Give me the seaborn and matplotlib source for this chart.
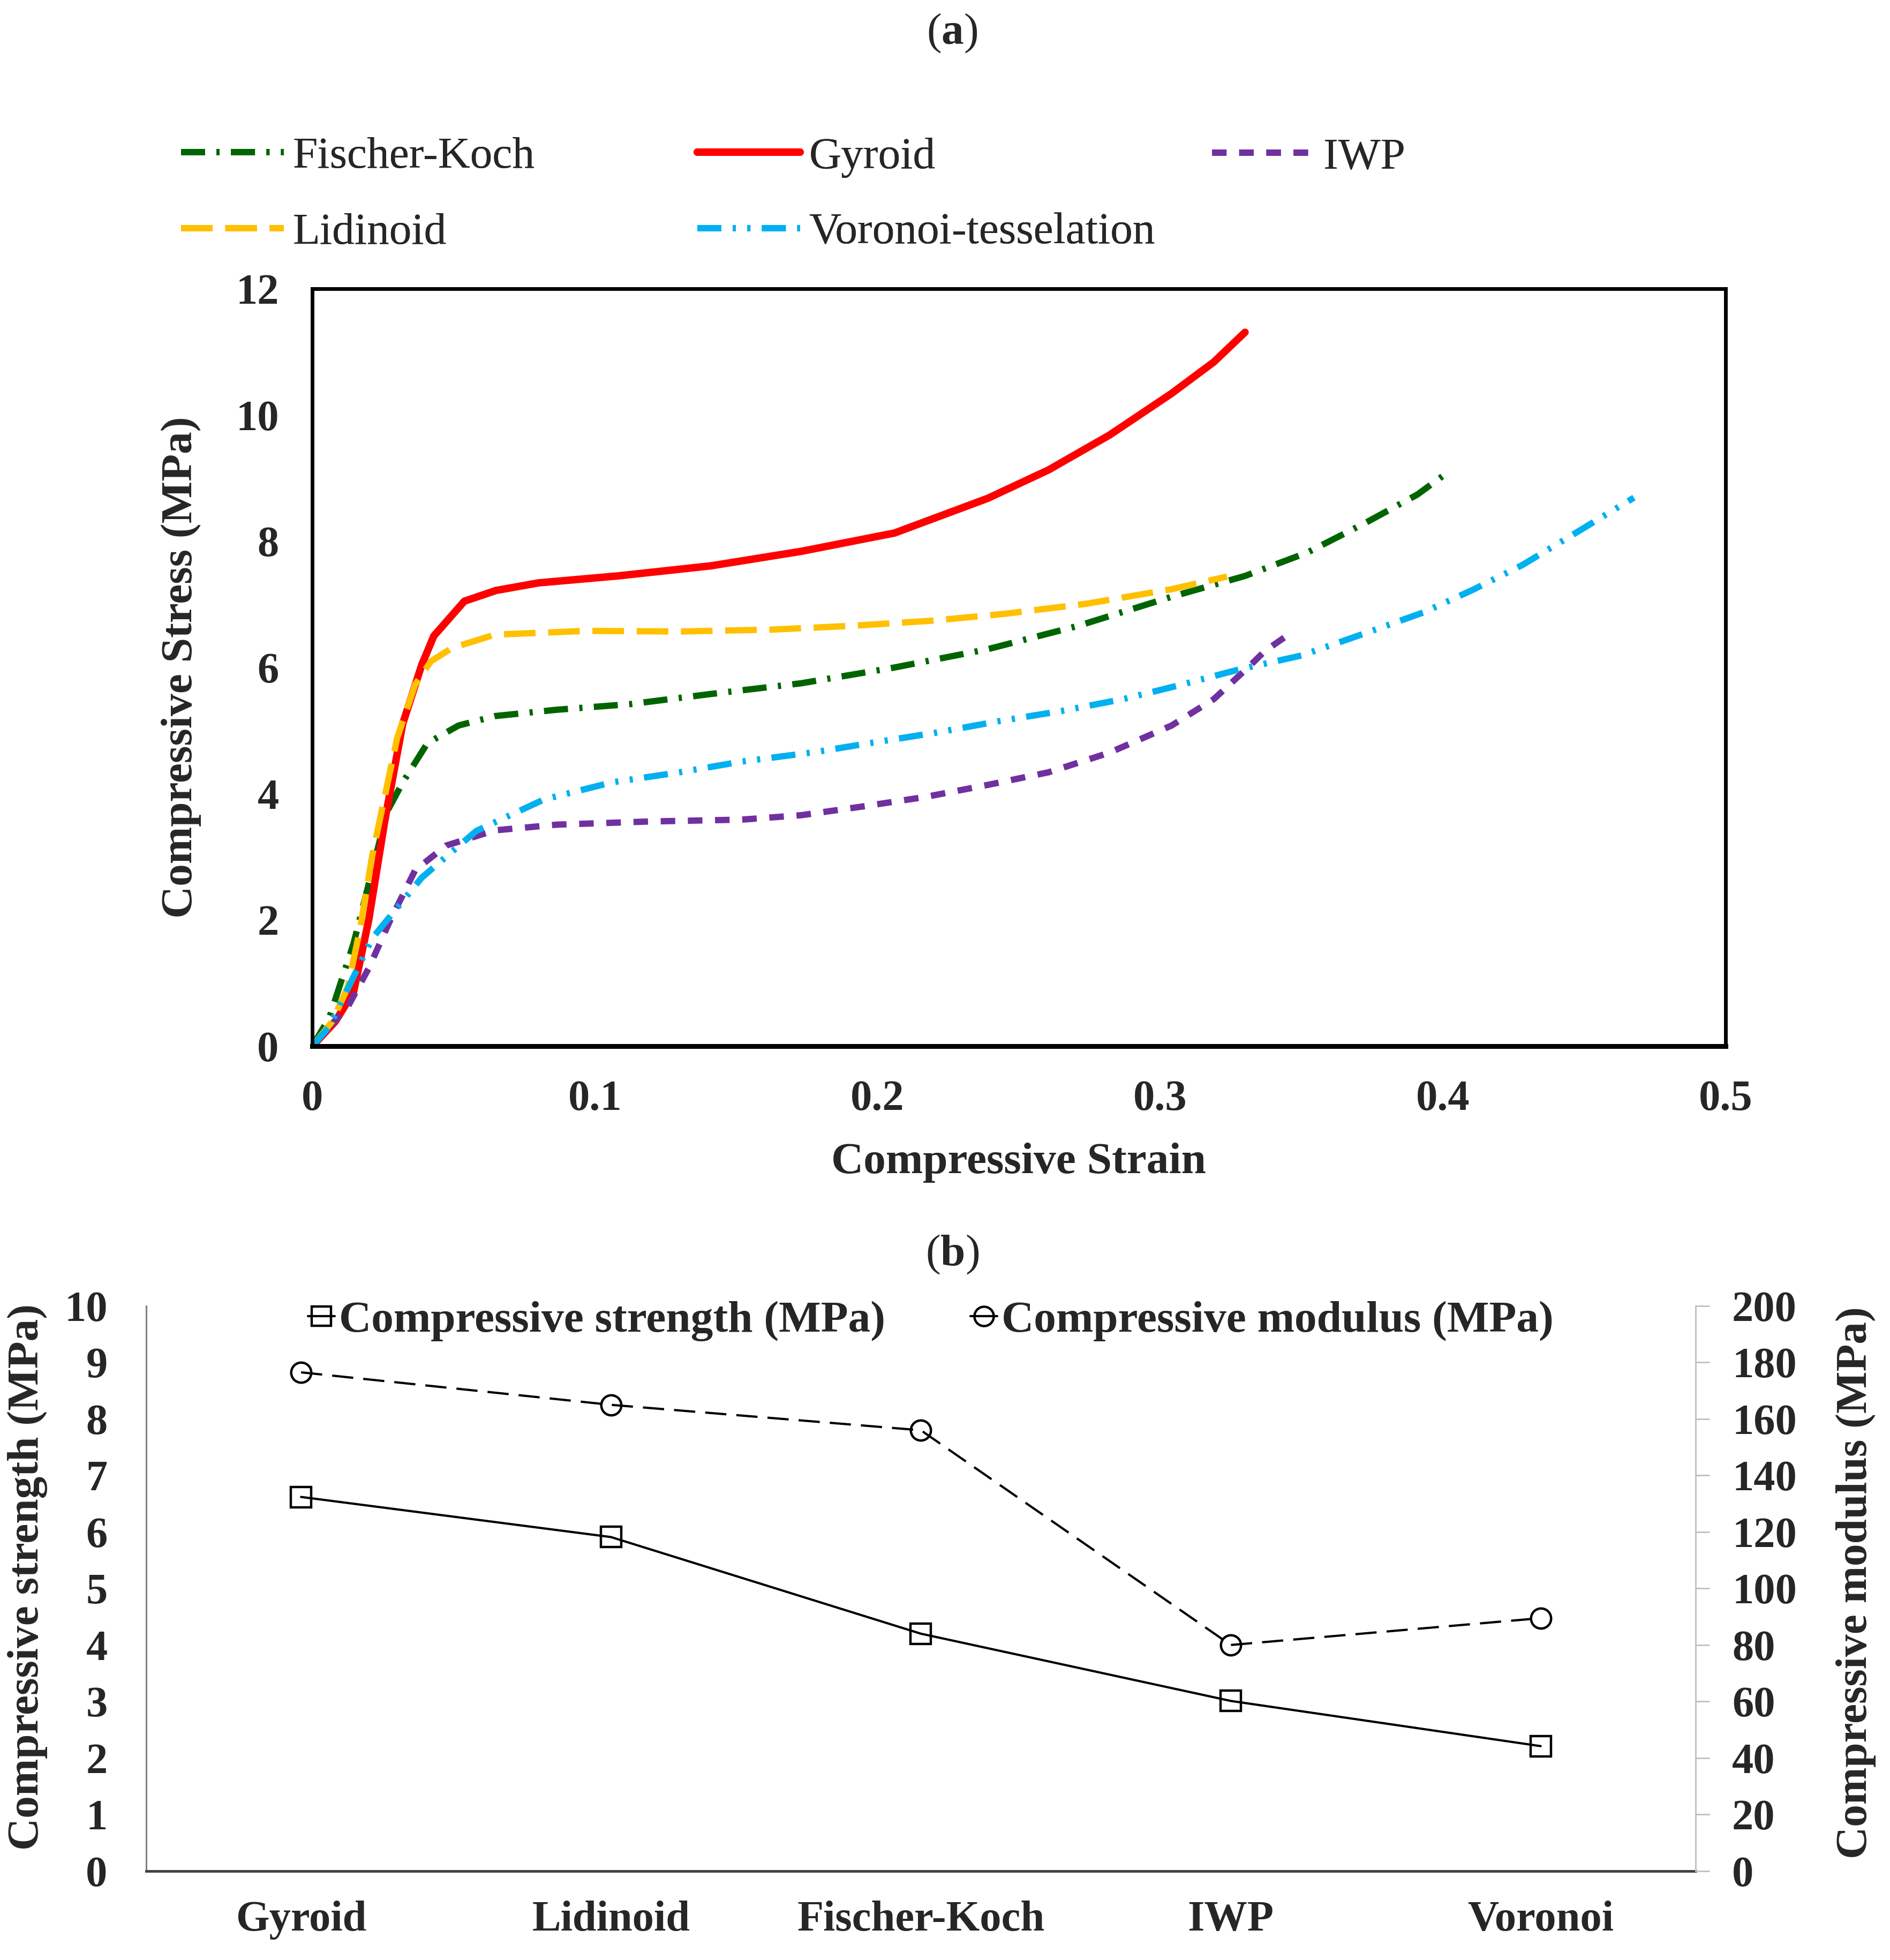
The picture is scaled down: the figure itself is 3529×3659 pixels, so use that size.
import numpy as np
import pandas as pd
import seaborn as sns
import matplotlib.pyplot as plt
from matplotlib.lines import Line2D

sns.set_theme(style="white")
plt.rcParams['font.family'] = ['Liberation Serif', 'DejaVu Serif']
plt.rcParams['mathtext.fontset'] = 'custom'
plt.rcParams['mathtext.bf'] = 'Liberation Serif:bold'
plt.rcParams['mathtext.rm'] = 'Liberation Serif'

# (a) stress-strain curves
strain_fk = [0, 0.006, 0.0146, 0.0212, 0.0265, 0.032, 0.0407, 0.0517, 0.0646, 0.0864, 0.1125,
             0.141, 0.173, 0.206, 0.239, 0.271, 0.304, 0.330, 0.352, 0.373, 0.391, 0.4017]
stress_fk = [0, 0.45, 1.63, 2.79, 3.72, 4.18, 4.80, 5.08, 5.23, 5.33, 5.42,
             5.58, 5.75, 6.00, 6.29, 6.66, 7.12, 7.45, 7.82, 8.30, 8.74, 9.09]

strain_gyr = [0, 0.0081, 0.0146, 0.020, 0.0256, 0.032, 0.0387, 0.043, 0.0538, 0.065, 0.080,
              0.108, 0.141, 0.173, 0.206, 0.239, 0.2605, 0.282, 0.304, 0.319, 0.330]
stress_gyr = [0, 0.39, 0.86, 2.01, 3.56, 5.11, 6.04, 6.50, 7.05, 7.22, 7.34,
              7.45, 7.61, 7.84, 8.13, 8.68, 9.13, 9.68, 10.34, 10.84, 11.31]

strain_iwp = [0, 0.0038, 0.0125, 0.020, 0.0277, 0.0364, 0.0474, 0.0646, 0.0864, 0.119, 0.152,
              0.173, 0.195, 0.217, 0.239, 0.2605, 0.282, 0.304, 0.319, 0.332, 0.337, 0.346]
stress_iwp = [0, 0.2, 0.62, 1.24, 2.01, 2.79, 3.18, 3.42, 3.51, 3.56, 3.59,
              3.66, 3.80, 3.95, 4.14, 4.34, 4.65, 5.08, 5.50, 6.04, 6.26, 6.54]

strain_lid = [0, 0.007, 0.0125, 0.0169, 0.0212, 0.0256, 0.030, 0.0364, 0.042, 0.0495, 0.0646,
              0.097, 0.130, 0.1626, 0.191, 0.219, 0.245, 0.274, 0.304, 0.3236]
stress_lid = [0, 0.39, 0.93, 1.86, 3.02, 3.95, 4.88, 5.73, 6.10, 6.31, 6.52,
              6.58, 6.57, 6.60, 6.66, 6.74, 6.85, 7.01, 7.24, 7.44]

strain_vor = [0, 0.006, 0.0212, 0.0387, 0.058, 0.082, 0.106, 0.130, 0.152, 0.178, 0.197, 0.221,
              0.243, 0.265, 0.287, 0.306, 0.328, 0.350, 0.373, 0.393, 0.4106, 0.428, 0.444, 0.4676]
stress_vor = [0, 0.31, 1.71, 2.67, 3.41, 3.91, 4.18, 4.34, 4.51, 4.66, 4.80, 4.97,
              5.15, 5.31, 5.50, 5.71, 5.97, 6.19, 6.55, 6.87, 7.23, 7.62, 8.05, 8.69]

# (b) summary values
structures = ["Gyroid", "Lidinoid", "Fischer-Koch", "IWP", "Voronoi"]
strength = [6.62, 5.91, 4.20, 3.01, 2.21]
modulus = [176.5, 165.0, 156.0, 80.0, 89.5]

series = [
    ("Fischer-Koch", strain_fk, stress_fk, "#006400", (0, (3.8, 1.8, 0.5, 1.8)), 8.5),
    ("Gyroid", strain_gyr, stress_gyr, "#FF0000", "-", 10),
    ("IWP", strain_iwp, stress_iwp, "#7030A0", (0, (2.3, 2)), 8.5),
    ("Lidinoid", strain_lid, stress_lid, "#FFC000", (0, (5, 2)), 8.5),
    ("Voronoi-tesselation", strain_vor, stress_vor, "#00B0F0",
     (0, (3.8, 1.8, 0.5, 1.8, 0.5, 1.8)), 8.5),
]

fig = plt.figure(figsize=(35.3, 36.59), dpi=100)
FS = 60

# ---------- panel (a) ----------
ax = fig.add_axes([0.1652, 0.4662, 0.7475, 0.3865])
handles = {}
for name, xs, ys, col, ls, lw in series:
    df = pd.DataFrame({"strain": xs, "stress": ys})
    sns.lineplot(data=df, x="strain", y="stress", ax=ax, color=col, linestyle=ls,
                 linewidth=lw, sort=False, estimator=None)
    handles[name] = Line2D([], [], color=col, linestyle=ls, linewidth=lw)

ax.set_xlim(0, 0.5)
ax.set_ylim(0, 12)
ax.set_xticks([0, 0.1, 0.2, 0.3, 0.4, 0.5])
ax.set_xticklabels(["0", "0.1", "0.2", "0.3", "0.4", "0.5"])
ax.set_yticks(range(0, 13, 2))
ax.tick_params(length=0, labelsize=58, pad=45)
for lab in ax.get_xticklabels() + ax.get_yticklabels():
    lab.set_fontweight("bold")
for s in ax.spines.values():
    s.set_color("black")
    s.set_linewidth(5)
ax.spines["bottom"].set_linewidth(6.5)
ax.set_xlabel("Compressive Strain", fontsize=FS, fontweight="bold")
ax.set_ylabel("Compressive Stress (MPa)", fontsize=FS, fontweight="bold")
ax.xaxis.label.set_va("center")
ax.yaxis.label.set_va("center")
ax.xaxis.set_label_coords(0.5, -0.1535)
ax.yaxis.set_label_coords(-0.0928, 0.5)

# legend of (a): three columns laid out like the original
cols = [(["Fischer-Koch", "Lidinoid"], 338, 364),
        (["Gyroid", "Voronoi-tesselation"], 1302, 364),
        (["IWP"], 2263, 294)]
for names, xpx, ypx in cols:
    leg = fig.legend([handles[n] for n in names], names, loc="center left",
                     bbox_to_anchor=(xpx / 3530, 1 - ypx / 3659), frameon=False,
                     fontsize=FS, handlelength=2.3, handletextpad=0.2,
                     labelspacing=0.78, borderpad=0, borderaxespad=0)
    fig.add_artist(leg)

fig.text(1778 / 3530, 1 - 62 / 3659, r"($\mathbf{a}$)", fontsize=FS, ha="center", va="center")
fig.text(1778 / 3530, 1 - 2342 / 3659, r"($\mathbf{b}$)", fontsize=FS, ha="center", va="center")

# ---------- panel (b) ----------
bx = fig.add_axes([0.0773, 0.0454, 0.8196, 0.2883])
dfb = pd.DataFrame({"structure": structures, "strength": strength, "modulus": modulus})
sns.lineplot(data=dfb, x="structure", y="strength", ax=bx, color="black", linewidth=3,
             marker="s", markersize=28, markerfacecolor="none", markeredgecolor="black",
             markeredgewidth=3.2, sort=False)
bx2 = bx.twinx()
sns.lineplot(data=dfb, x="structure", y="modulus", ax=bx2, color="black", linewidth=3,
             linestyle=(0, (9.5, 4.5)), marker="o", markersize=27, markerfacecolor="none",
             markeredgecolor="black", markeredgewidth=3.2, sort=False)

bx.set_xlim(-0.5, 4.5)
bx.set_ylim(0, 10)
bx.set_yticks(range(0, 11))
bx2.set_ylim(0, 200)
bx2.set_yticks(range(0, 201, 20))
bx.tick_params(axis="both", length=0, labelsize=58)
bx.tick_params(axis="x", pad=40)
bx.tick_params(axis="y", pad=52)
bx2.tick_params(axis="y", length=19, width=2, color="#BFBFBF", labelsize=58, pad=30)
for lab in bx.get_xticklabels() + bx.get_yticklabels() + bx2.get_yticklabels():
    lab.set_fontweight("bold")

for s in ["top", "right"]:
    bx.spines[s].set_visible(False)
for s in ["top", "left", "bottom"]:
    bx2.spines[s].set_visible(False)
bx.spines["left"].set_color("#808080")
bx.spines["left"].set_linewidth(2.2)
bx.spines["bottom"].set_color("#404040")
bx.spines["bottom"].set_linewidth(3.5)
bx2.spines["right"].set_color("#BFBFBF")
bx2.spines["right"].set_linewidth(2)

bx.set_xlabel("")
bx.set_ylabel("Compressive strength (MPa)", fontsize=FS, fontweight="bold")
bx2.set_ylabel("Compressive modulus (MPa)", fontsize=FS, fontweight="bold")
bx.yaxis.label.set_va("center")
bx2.yaxis.label.set_va("center")
bx.yaxis.set_label_coords(-0.0767, 0.52)
bx2.yaxis.set_label_coords(1.1034, 0.51)

h1 = Line2D([], [], color="black", linewidth=3, marker="s", markersize=26,
            markerfacecolor="none", markeredgecolor="black", markeredgewidth=3.2)
h2 = Line2D([], [], color="black", linewidth=3, marker="o", markersize=26,
            markerfacecolor="none", markeredgecolor="black", markeredgewidth=3.2)
fig.legend([h1, h2], ["Compressive strength (MPa)", "Compressive modulus (MPa)"],
           loc="center", bbox_to_anchor=(1738 / 3530, 1 - 2466 / 3659), ncol=2,
           frameon=False, prop={"size": FS, "weight": "bold"}, handlelength=0.6,
           handletextpad=0.1, columnspacing=1.9, borderpad=0, borderaxespad=0)

fig.savefig("out.png", dpi=100)
